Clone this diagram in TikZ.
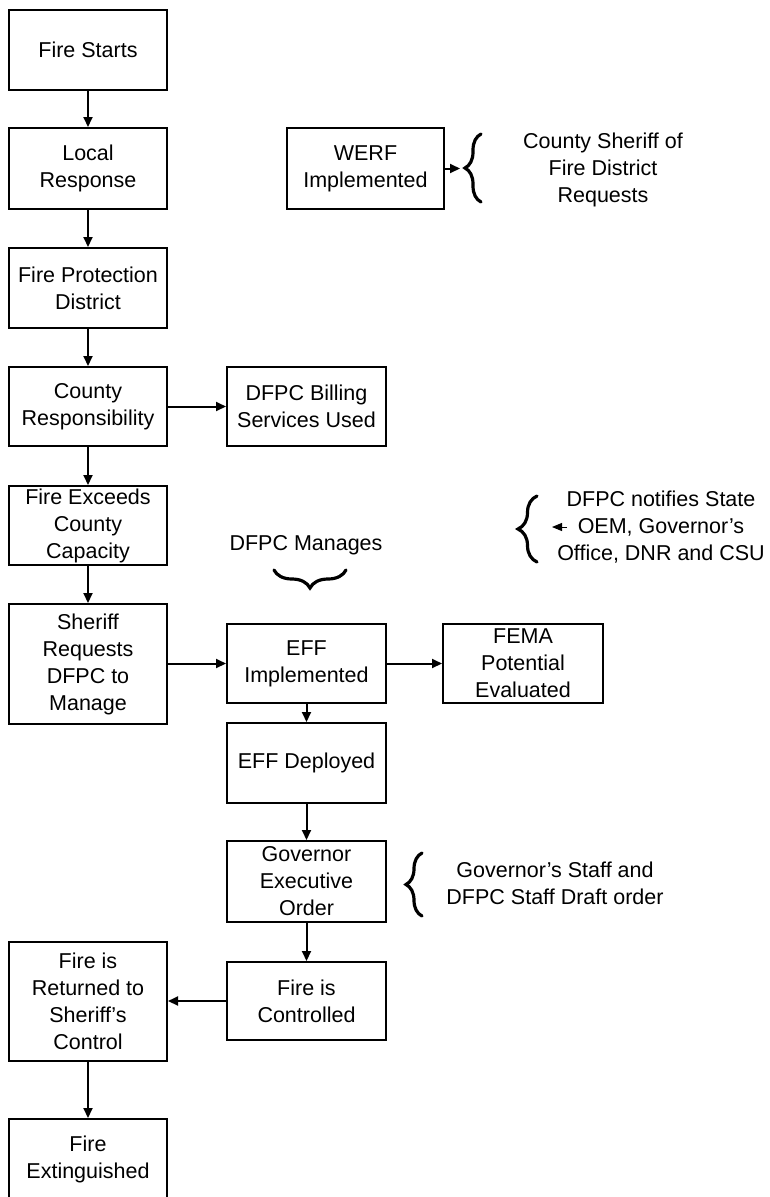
\documentclass[tikz,border=0pt]{standalone}
\usepackage{fontspec}
\setmainfont{Liberation Sans}
\usetikzlibrary{arrows.meta,decorations.pathreplacing}
\begin{document}
\begin{tikzpicture}[x=1pt,y=-1pt,
  every node/.style={font=\fontsize{21.5}{27}\selectfont, align=center, inner sep=0pt},
  box/.style={draw, line width=2pt, minimum width=158pt, rectangle},
  arr/.style={line width=2pt, -{Triangle[length=10pt,width=9pt]}},
  brc/.style={decorate, decoration={brace, amplitude=#1}, line width=3.2pt, line cap=round},
  note/.style={}]
\useasboundingbox (0,0) rectangle (770,1197);
% left column
\node[box, minimum height=80pt] (fs) at (88,50) {Fire Starts};
\node[box, minimum height=81pt] (lr) at (88,168.5) {Local\\Response};
\node[box, minimum height=80pt] (fpd) at (88,288) {Fire Protection\\District};
\node[box, minimum height=79pt] (cr) at (88,406.5) {County\\Responsibility};
\node[box, minimum height=79pt] (fe) at (88,525.5) {Fire Exceeds\\County\\Capacity};
\node[box, minimum height=120pt] (sr) at (88,664) {Sheriff\\Requests\\DFPC to\\Manage};
\node[box, minimum height=119pt] (ret) at (88,1001.5) {Fire is\\Returned to\\Sheriff's\\Control};
\node[box, minimum height=80pt] (ext) at (88,1159) {Fire\\Extinguished};
% middle / right
\node[box, minimum height=81pt, minimum width=157pt] (werf) at (365.5,168.5) {WERF\\Implemented};
\node[box, minimum height=79pt, minimum width=159pt] (bill) at (306.5,406.5) {DFPC Billing\\Services Used};
\node[box, minimum height=79pt, minimum width=159pt] (effi) at (306.5,663.5) {EFF\\Implemented};
\node[box, minimum height=79pt, minimum width=160pt] (fema) at (523,663.5) {FEMA\\Potential\\Evaluated};
\node[box, minimum height=80pt, minimum width=159pt] (effd) at (306.5,763) {EFF Deployed};
\node[box, minimum height=81pt, minimum width=159pt] (gov) at (306.5,881.5) {Governor\\Executive\\Order};
\node[box, minimum height=78pt, minimum width=159pt] (ctrl) at (306.5,1001) {Fire is\\Controlled};
% notes
\node[note] (werfn) at (603,170) {County Sheriff of\\Fire District\\Requests};
\node[note] (notif) at (661,527) {DFPC notifies State\\OEM, Governor's\\Office, DNR and CSU};
\node[note] (mgr) at (306,545) {DFPC Manages};
\node[note] (govn) at (555,883) {Governor's Staff and\\DFPC Staff Draft order};
% braces
\draw[brc=16pt] (481,202) -- (481,134);
\draw[brc=19pt] (537,562) -- (537,496);
\draw[brc=18pt] (346,570) -- (274,570);
\draw[brc=16pt] (422,916) -- (422,853);
% connectors
\draw[arr] (fs) -- (lr);
\draw[arr] (lr) -- (fpd);
\draw[arr] (fpd) -- (cr);
\draw[arr] (cr) -- (fe);
\draw[arr] (fe) -- (sr);
\draw[arr] (cr) -- (bill);
\draw[arr] (sr.east |- effi.west) -- (effi.west);
\draw[arr] (effi) -- (fema);
\draw[arr] (effi) -- (effd);
\draw[arr] (effd) -- (gov);
\draw[arr] (gov) -- (ctrl);
\draw[arr] (ctrl.west) -- (ctrl.west -| ret.east);
\draw[arr] (ret) -- (ext);
\coordinate (werftip) at (460,168.5);
\draw[arr] (werf.east) -- (werftip);
\coordinate (nfrom) at (567,527);
\coordinate (nto) at (552,527);
\draw[line width=1pt, -{Triangle[length=10pt,width=8pt]}] (nfrom) -- (nto);
\end{tikzpicture}
\end{document}
